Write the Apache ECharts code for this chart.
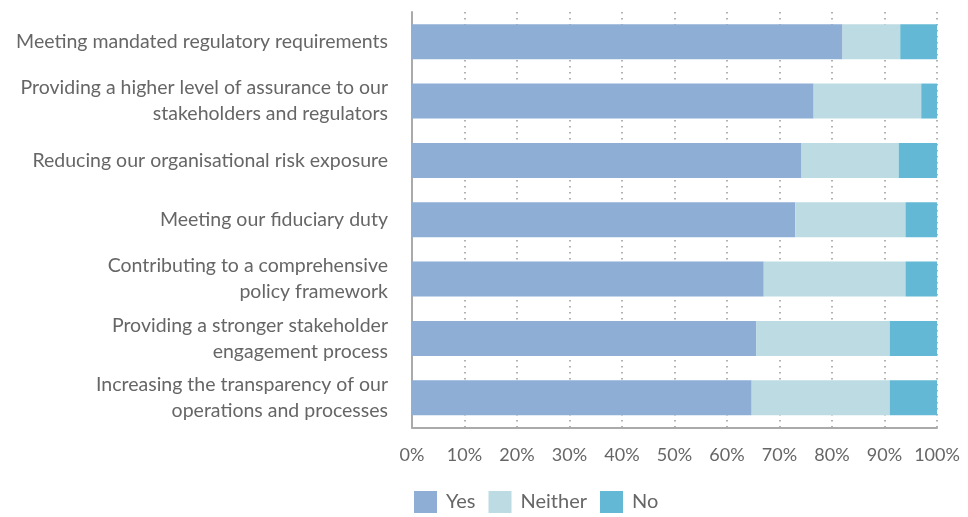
<!DOCTYPE html>
<html>
<head>
<meta charset="utf-8">
<script src="https://cdn.jsdelivr.net/npm/echarts@6/dist/echarts.min.js"></script>
<style>
html,body{margin:0;padding:0;background:#fff}
#chart{width:968px;height:517px}
</style>
</head>
<body>
<div id="chart"></div>
<script>
// categories, top to bottom
const categories = [
  'Meeting mandated regulatory requirements',
  'Providing a higher level of assurance to our\nstakeholders and regulators',
  'Reducing our organisational risk exposure',
  'Meeting our fiduciary duty',
  'Contributing to a comprehensive\npolicy framework',
  'Providing a stronger stakeholder\nengagement process',
  'Increasing the transparency of our\noperations and processes'
]
const yesValues     = [82, 76.5, 74.2, 73, 67, 65.6, 64.7]
const neitherValues = [11, 20.5, 18.5, 21, 27, 25.4, 26.3]
const noValues      = [7, 3, 7.3, 6, 6, 9, 9]

const seriesNames = ['Yes', 'Neither', 'No']
const colors = ['#8eaed6', '#bcdbe2', '#63b9d5']

const textColor = '#666'
const font = 'Lato, "Open Sans", sans-serif'

let myChart = echarts.init(document.getElementById('chart'))

function barSeries(name, data, color) {
  return {
    name: name,
    type: 'bar',
    stack: 'total',
    data: data,
    barWidth: 35,
    itemStyle: { color: color },
    emphasis: { disabled: true }
  }
}

myChart.setOption({
  animation: false,
  textStyle: { fontFamily: font },
  grid: { left: 412, right: 31, top: 12, bottom: 89.5, containLabel: false },
  legend: {
    data: seriesNames,
    left: 414,
    top: 491,
    padding: 0,
    itemWidth: 23,
    itemHeight: 22,
    itemGap: 13,
    icon: 'rect',
    textStyle: { fontSize: 20, color: textColor, fontFamily: font, padding: [10, 0, 0, 4] }
  },
  xAxis: {
    type: 'value',
    min: 0,
    max: 100,
    interval: 10,
    axisLine: { show: true, lineStyle: { color: '#aaa', width: 2 } },
    axisTick: { show: false },
    axisLabel: { formatter: '{value}%', fontSize: 18, color: textColor, margin: 19, fontFamily: font },
    splitLine: { show: true, lineStyle: { color: '#999', width: 1.5, type: [1.5, 4.5] } }
  },
  yAxis: {
    type: 'category',
    inverse: true,
    data: categories,
    axisLine: { show: true, lineStyle: { color: '#aaa', width: 2 } },
    axisTick: { show: false },
    axisLabel: { fontSize: 19.5, color: textColor, margin: 24, lineHeight: 26, align: 'right', fontFamily: font }
  },
  series: [
    barSeries(seriesNames[0], yesValues, colors[0]),
    barSeries(seriesNames[1], neitherValues, colors[1]),
    barSeries(seriesNames[2], noValues, colors[2])
  ]
})
</script>
</body>
</html>
